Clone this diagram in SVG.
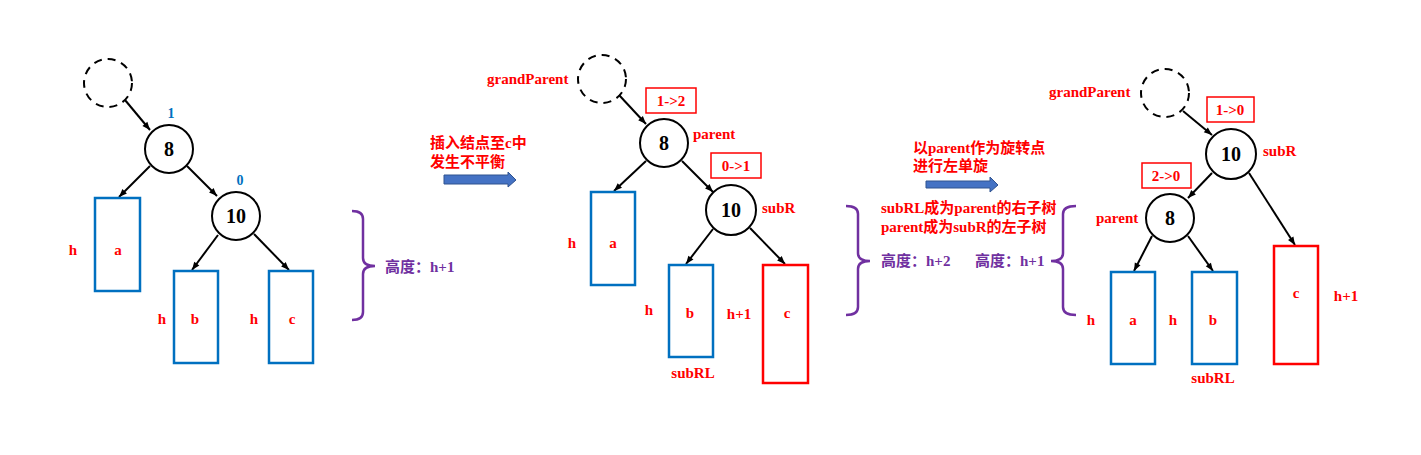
<svg xmlns="http://www.w3.org/2000/svg" width="1421" height="455" viewBox="0 0 1421 455">
<style>
text{font-family:"Liberation Serif","Noto Sans CJK SC",serif;font-weight:bold}
.t{font-size:15px;fill:#FF0000}
.p{font-size:15px;fill:#7030A0}
.bl{font-size:14px;fill:#0070C0}
.n{font-size:20px;fill:#000}
.c{text-anchor:middle}
.node{fill:#fff;stroke:#000;stroke-width:2}
.dash{fill:none;stroke:#000;stroke-width:2;stroke-dasharray:8 6}
.rb{fill:none;stroke:#0070C0;stroke-width:2.5}
.rr{fill:none;stroke:#FF0000;stroke-width:2.5}
.bx{fill:none;stroke:#FF0000;stroke-width:1.5}
.edge{stroke:#000;stroke-width:2;marker-end:url(#ah)}
.brace{fill:none;stroke:#7030A0;stroke-width:2.5}
.barrow{fill:#4472C4;stroke:#2F528F;stroke-width:1}
</style>
<defs>
<marker id="ah" viewBox="0 0 10 10" refX="10" refY="5" markerWidth="9" markerHeight="8" markerUnits="userSpaceOnUse" orient="auto"><path d="M0,1 L10,5 L0,9 z" fill="#000"/></marker>
</defs>
<rect width="1421" height="455" fill="#fff"/>

<g id="connectors">
<line class="edge" x1="125" y1="100" x2="150" y2="130"/>
<line class="edge" x1="150" y1="166" x2="119" y2="197"/>
<line class="edge" x1="187" y1="166" x2="217" y2="196"/>
<line class="edge" x1="218" y1="235" x2="192" y2="270"/>
<line class="edge" x1="254" y1="234" x2="289" y2="270"/>

<line class="edge" x1="619" y1="95" x2="646" y2="124"/>
<line class="edge" x1="646" y1="161" x2="614" y2="191"/>
<line class="edge" x1="682" y1="161" x2="713" y2="192"/>
<line class="edge" x1="713" y1="229" x2="686" y2="264"/>
<line class="edge" x1="750" y1="228" x2="785" y2="264"/>

<line class="edge" x1="1183" y1="111" x2="1212" y2="135"/>
<line class="edge" x1="1212" y1="173" x2="1188" y2="198"/>
<line class="edge" x1="1249" y1="173" x2="1295" y2="245"/>
<line class="edge" x1="1152" y1="236" x2="1134" y2="271"/>
<line class="edge" x1="1188" y1="236" x2="1213" y2="271"/>
</g>

<!-- Left tree -->
<g id="l-gp"><circle class="dash" cx="108" cy="83" r="24"/></g>
<g id="l-n8"><circle class="node" cx="169" cy="149" r="24"/><text class="n c" x="169" y="156">8</text><text class="bl c" x="171" y="118">1</text></g>
<g id="l-n10"><circle class="node" cx="236" cy="216" r="24"/><text class="n c" x="236" y="223">10</text><text class="bl c" x="240" y="185">0</text></g>
<g id="l-a"><rect class="rb" x="95" y="198" width="45" height="93"/><text class="t c" x="118" y="255">a</text><text class="t c" x="73" y="255">h</text></g>
<g id="l-b"><rect class="rb" x="174" y="271" width="44" height="92"/><text class="t c" x="195" y="324">b</text><text class="t c" x="162" y="324">h</text></g>
<g id="l-c"><rect class="rb" x="269" y="271" width="44" height="92"/><text class="t c" x="292" y="324">c</text><text class="t c" x="254" y="324">h</text></g>
<g id="l-height"><path class="brace" d="M352,211 Q363,211 363,219 L363,258 Q363,266 375,266 Q363,266 363,274 L363,312 Q363,320 352,320"/><text class="p" x="385" y="272">高度：h+1</text></g>

<!-- Step 1 -->
<g id="step1"><text class="t" x="430" y="148">插入结点至c中</text><text class="t" x="430" y="167">发生不平衡</text>
<polygon class="barrow" points="444,175 508,175 508,172 516,180 508,187 508,184 444,184"/></g>

<!-- Middle tree -->
<g id="m-gp"><circle class="dash" cx="602" cy="79" r="24"/><text class="t" x="487" y="84">grandParent</text></g>
<g id="m-n8"><circle class="node" cx="664" cy="143" r="24"/><text class="n c" x="664" y="150">8</text><text class="t" x="693" y="139">parent</text>
<rect class="bx" x="646" y="88" width="50" height="25"/><text class="t c" x="671" y="106">1-&gt;2</text></g>
<g id="m-n10"><circle class="node" cx="731" cy="210" r="25"/><text class="n c" x="731" y="217">10</text><text class="t" x="762" y="213">subR</text>
<rect class="bx" x="711" y="153" width="50" height="25"/><text class="t c" x="736" y="171">0-&gt;1</text></g>
<g id="m-a"><rect class="rb" x="591" y="192" width="44" height="93"/><text class="t c" x="613" y="248">a</text><text class="t c" x="572" y="248">h</text></g>
<g id="m-b"><rect class="rb" x="669" y="265" width="44" height="92"/><text class="t c" x="690" y="318">b</text><text class="t c" x="649" y="315">h</text><text class="t c" x="693" y="378">subRL</text></g>
<g id="m-c"><rect class="rr" x="763" y="265" width="45" height="118"/><text class="t c" x="787" y="318">c</text><text class="t c" x="739" y="319">h+1</text></g>

<!-- Step 2 -->
<g id="step2"><text class="t" x="913" y="153">以parent作为旋转点</text><text class="t" x="913" y="171">进行左单旋</text>
<polygon class="barrow" points="926,181 990,181 990,177 998,185 990,192 990,188 926,188"/>
<text class="t" x="881" y="213">subRL成为parent的右子树</text><text class="t" x="881" y="232">parent成为subR的左子树</text>
<text class="p" x="881" y="266">高度：h+2</text><text class="p" x="975" y="266">高度：h+1</text>
<path class="brace" d="M846,206 Q858,206 858,214 L858,253 Q858,261 870,261 Q858,261 858,269 L858,307 Q858,315 846,315"/>
<path class="brace" d="M1076,206 Q1063,206 1063,214 L1063,253 Q1063,261 1051,261 Q1063,261 1063,269 L1063,307 Q1063,315 1076,315"/></g>

<!-- Right tree -->
<g id="r-gp"><circle class="dash" cx="1165" cy="93" r="24"/><text class="t" x="1049" y="97">grandParent</text></g>
<g id="r-n10"><circle class="node" cx="1231" cy="154" r="25"/><text class="n c" x="1231" y="161">10</text><text class="t" x="1263" y="156">subR</text>
<rect class="bx" x="1207" y="97" width="47" height="25"/><text class="t c" x="1230" y="115">1-&gt;0</text></g>
<g id="r-n8"><circle class="node" cx="1170" cy="218" r="24"/><text class="n c" x="1170" y="225">8</text><text class="t" x="1096" y="223">parent</text>
<rect class="bx" x="1142" y="163" width="49" height="25"/><text class="t c" x="1166" y="181">2-&gt;0</text></g>
<g id="r-a"><rect class="rb" x="1111" y="272" width="44" height="92"/><text class="t c" x="1133" y="325">a</text><text class="t c" x="1091" y="325">h</text></g>
<g id="r-b"><rect class="rb" x="1192" y="272" width="45" height="92"/><text class="t c" x="1213" y="325">b</text><text class="t c" x="1173" y="325">h</text><text class="t c" x="1213" y="383">subRL</text></g>
<g id="r-c"><rect class="rr" x="1274" y="246" width="44" height="118"/><text class="t c" x="1296" y="298">c</text><text class="t c" x="1346" y="301">h+1</text></g>
</svg>
